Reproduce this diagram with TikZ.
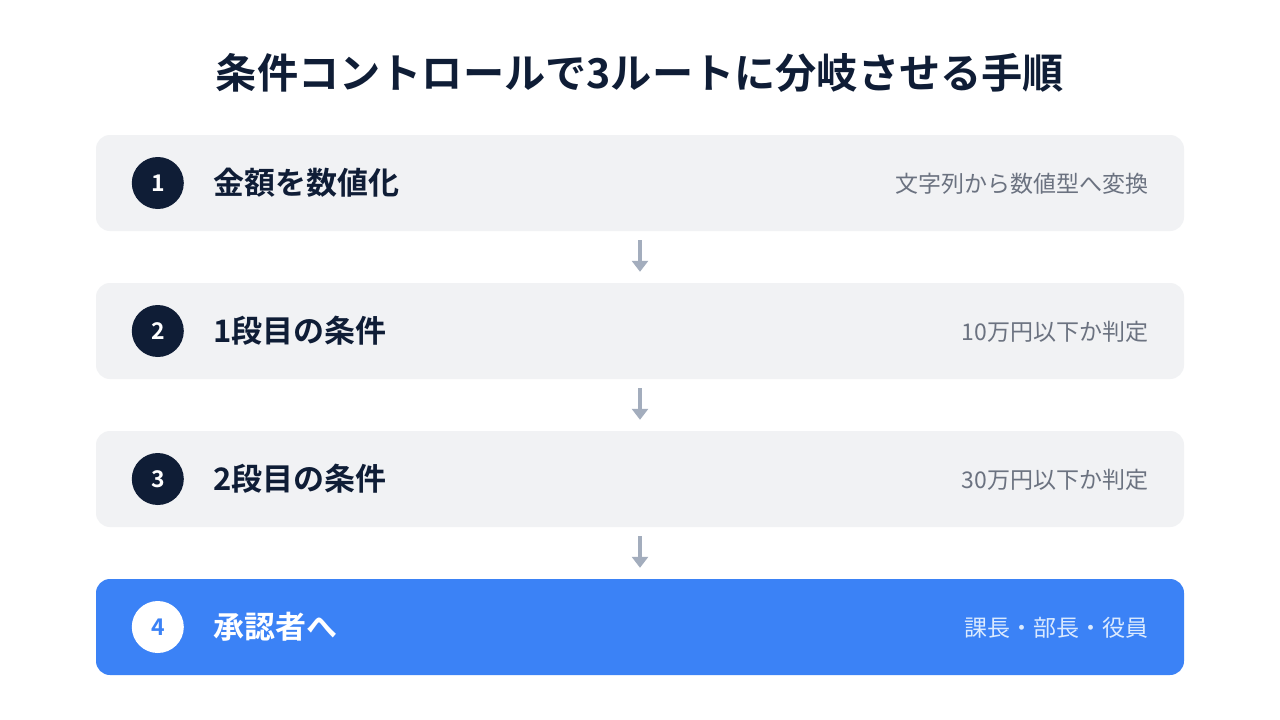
\documentclass[tikz,border=0pt]{standalone}
\usepackage{fontspec}
\setmainfont{Noto Sans CJK JP}
\newfontfamily\jpbold{Noto Sans CJK JP Bold}
\usetikzlibrary{arrows.meta, positioning}
\definecolor{navy}{HTML}{0F1D36}
\definecolor{boxgray}{HTML}{F1F2F4}
\definecolor{descgray}{HTML}{6B7280}
\definecolor{arrowgray}{HTML}{A3ADBD}
\definecolor{mainblue}{HTML}{3B82F6}
\definecolor{paleblue}{HTML}{DBEAFE}
\tikzset{
  stepbox/.style = {draw=none, fill=#1, rounded corners=14pt, minimum width=1088pt, minimum height=96pt, inner sep=0pt},
  numdot/.style = {circle, minimum size=52pt, inner sep=0pt, font=\jpbold\fontsize{23}{23}\selectfont},
  steptitle/.style = {anchor=west, inner sep=0pt, font=\jpbold\fontsize{31}{31}\selectfont},
  stepnote/.style = {anchor=east, inner sep=0pt, font=\fontsize{23}{23}\selectfont},
  % plain gray step and highlighted blue step
  plainstep/.style = {stepbox/.append style={fill=boxgray}, numdot/.append style={fill=navy, text=white},
    steptitle/.append style={text=navy}, stepnote/.append style={text=descgray}},
  bluestep/.style = {stepbox/.append style={fill=mainblue}, numdot/.append style={fill=white, text=mainblue},
    steptitle/.append style={text=white}, stepnote/.append style={text=paleblue}},
  flowarrow/.style = {draw=arrowgray, line width=4pt, -{Triangle[width=16pt,length=11pt]}, shorten <=9pt, shorten >=11pt}
}
\NewDocumentCommand{\flowstep}{O{plainstep} m m m m m}{%
  \begin{scope}[#1]
  \node[stepbox] (#2) at (640,#3) {};
  \node[numdot] (#2-num) at ([xshift=62pt]#2.west) {#4};
  \node[steptitle] (#2-title) at ([xshift=117pt]#2.west) {#5};
  \node[stepnote] (#2-note) at ([xshift=-36pt,yshift=-1pt]#2.east) {#6};
  \end{scope}
}

\begin{document}
\begin{tikzpicture}[x=1pt, y=-1pt]
\useasboundingbox[fill=white] (0,0) rectangle (1280,720);
\node[font=\jpbold\fontsize{41.2}{41.2}\selectfont, text=navy] (heading) at (640,73) {条件コントロールで3ルートに分岐させる手順};

\flowstep{amount}{183}{1}{金額を数値化}{文字列から数値型へ変換}
\flowstep{firstcond}{331}{2}{1段目の条件}{10万円以下か判定}
\flowstep{secondcond}{479}{3}{2段目の条件}{30万円以下か判定}
\flowstep[bluestep]{approver}{627}{4}{承認者へ}{課長・部長・役員}

\draw[flowarrow] (amount) -- (firstcond);
\draw[flowarrow] (firstcond) -- (secondcond);
\draw[flowarrow] (secondcond) -- (approver);
\end{tikzpicture}
\end{document}
